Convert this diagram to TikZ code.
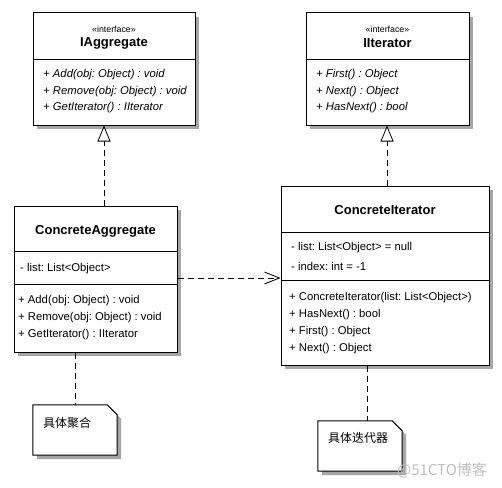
\documentclass[tikz,border=0pt]{standalone}
\usepackage{fontspec}
\setmainfont{Liberation Sans}
\newfontfamily\cjk{Noto Sans CJK SC}
\usetikzlibrary{arrows.meta,calc,shadows}
\frenchspacing
\tikzset{
  cls/.style={draw=black, line width=1pt, fill=white, inner sep=0pt,
    drop shadow={shadow xshift=4pt, shadow yshift=-4pt, fill=black!35, opacity=1}},
  notebox/.style={inner sep=0pt},
  divider/.style={line width=1pt},
  stereo/.style={font=\fontsize{8.8}{10}\selectfont, inner sep=0pt},
  ctitle/.style={font=\fontsize{13}{15}\selectfont\bfseries, inner sep=0pt},
  member/.style={font=\fontsize{11.3}{13}\selectfont, inner sep=0pt, anchor=west},
  absmember/.style={member, font=\fontsize{11.3}{13}\selectfont\itshape},
  notetext/.style={font=\cjk\fontsize{12}{14}\selectfont, inner sep=0pt, anchor=west},
  real/.style={line width=0.8pt, dash pattern=on 6pt off 4pt,
    -{Triangle[open, length=16pt, width=13pt, line width=0.8pt]}},
  dep/.style={line width=0.8pt, dash pattern=on 6pt off 4pt,
    -{Straight Barb[length=15pt, width=12pt, line width=0.8pt]}},
  notelink/.style={line width=0.8pt, dash pattern=on 6pt off 4pt},
  shadowfill/.style={fill=black!35},
}
\begin{document}
\begin{tikzpicture}[x=1pt,y=-1pt]
\fill[white] (0,0) rectangle (502,487);

% ---- IAggregate
\node[cls, minimum width=162pt, minimum height=112pt] (ia) at (114,69) {};
\draw[divider] (ia.west |- 0,59) -- (ia.east |- 0,59);
\node[stereo] (ia-st) at (114,29) {«interface»};
\node[ctitle] (ia-t) at (114,43) {IAggregate};
\node[absmember] (ia-o1) at (43,75) {+ Add(obj: Object) : void};
\node[absmember] (ia-o2) at (43,91.5) {+ Remove(obj: Object) : void};
\node[absmember] (ia-o3) at (43,108) {+ GetIterator() : IIterator};

% ---- IIterator
\node[cls, minimum width=163pt, minimum height=112pt] (ii) at (387.5,69) {};
\draw[divider] (ii.west |- 0,59) -- (ii.east |- 0,59);
\node[stereo] (ii-st) at (387.5,29) {«interface»};
\node[ctitle] (ii-t) at (387.5,43) {IIterator};
\node[absmember] (ii-o1) at (316,75) {+ First() : Object};
\node[absmember] (ii-o2) at (316,91.5) {+ Next() : Object};
\node[absmember] (ii-o3) at (316,108) {+ HasNext() : bool};

% ---- ConcreteAggregate
\node[cls, minimum width=163pt, minimum height=146pt] (ca) at (95.5,279) {};
\draw[divider] (ca.west |- 0,251) -- (ca.east |- 0,251);
\draw[divider] (ca.west |- 0,284) -- (ca.east |- 0,284);
\node[ctitle] (ca-t) at (95.5,231) {ConcreteAggregate};
\node[member] (ca-a1) at (20,269) {- list: List<Object>};
\node[member] (ca-o1) at (18,301) {+ Add(obj: Object) : void};
\node[member] (ca-o2) at (18,318) {+ Remove(obj: Object) : void};
\node[member] (ca-o3) at (18,335) {+ GetIterator() : IIterator};

% ---- ConcreteIterator
\node[cls, minimum width=208pt, minimum height=179pt] (ci) at (385,275.5) {};
\draw[divider] (ci.west |- 0,232) -- (ci.east |- 0,232);
\draw[divider] (ci.west |- 0,280) -- (ci.east |- 0,280);
\node[ctitle] (ci-t) at (385,210) {ConcreteIterator};
\node[member] (ci-a1) at (291,248) {- list: List<Object> = null};
\node[member] (ci-a2) at (291,266) {- index: int = -1};
\node[member] (ci-o1) at (289,298) {+ ConcreteIterator(list: List<Object>)};
\node[member] (ci-o2) at (289,315) {+ HasNext() : bool};
\node[member] (ci-o3) at (289,332) {+ First() : Object};
\node[member] (ci-o4) at (289,349) {+ Next() : Object};

% ---- Notes
\node[notebox, minimum width=84pt, minimum height=50pt] (n1) at (75,430) {};
\node[notebox, minimum width=84pt, minimum height=50pt] (n2) at (360,446) {};
\foreach \n in {n1,n2}{
  \fill[shadowfill] ($(\n.north west)+(4,4)$) -- ($(\n.north east)+(-6,4)$)
     -- ($(\n.north east)+(4,14)$) -- ($(\n.south east)+(4,4)$) -- ($(\n.south west)+(4,4)$) -- cycle;
  \draw[line width=1pt, fill=white] (\n.north west) -- ($(\n.north east)+(-10,0)$)
     -- ($(\n.north east)+(0,10)$) -- (\n.south east) -- (\n.south west) -- cycle;
}
\node[notetext] (n1-t) at ($(n1.north west)+(10,18)$) {具体聚合};
\node[notetext] (n2-t) at ($(n2.north west)+(10,17)$) {具体迭代器};

% ---- Connectors
\draw[real] (ca.north -| 104,0) -- (ia.south -| 104,0);
\draw[real] (ci.north -| 387,0) -- (ii.south -| 387,0);
\draw[dep] (ca.east |- 0,278) -- (ci.west |- 0,278);
\draw[notelink] (ca.south -| n1.north) -- (n1.north);
\draw[notelink] (ci.south -| 367,0) -- (n2.north -| 367,0);

% ---- watermark
\node[font=\cjk\fontsize{15}{17}\selectfont, text=black!25, inner sep=0pt] (wm) at (442,470) {@51CTO博客};
\end{tikzpicture}
\end{document}
